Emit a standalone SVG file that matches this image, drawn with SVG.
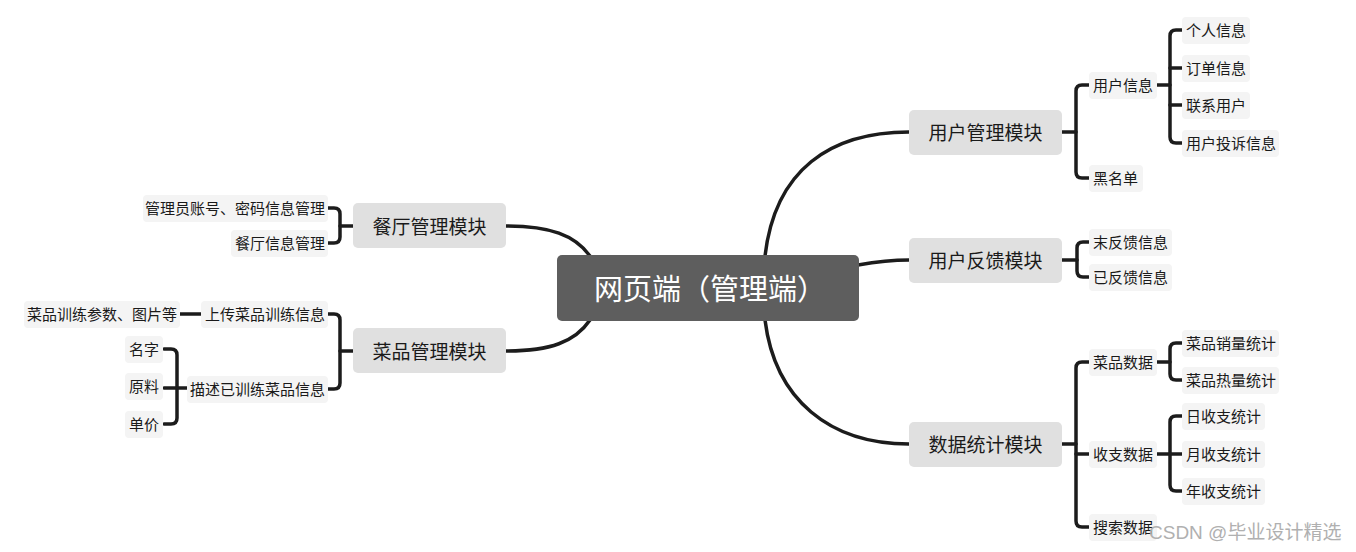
<svg xmlns="http://www.w3.org/2000/svg" width="1356" height="552" viewBox="0 0 1356 552">
<style>
.bg{fill:#ffffff}
.root{fill:#5e5e5e}
.main{fill:#e0e0e0}
.lab{fill:#f4f4f4}
.c{fill:none;stroke:#1c1c1c;stroke-width:3.5;stroke-linecap:round;stroke-linejoin:round}
text{font-family:"Noto Sans CJK SC","Noto Sans",sans-serif;fill:#1a1a1a;dominant-baseline:central}
.t0{font-size:29px;fill:#ffffff;text-anchor:middle}
.t1{font-size:19px;text-anchor:middle}
.t2{font-size:15px}
.r{text-anchor:end}
.wm{font-size:19px;fill:#b0b0b0;font-family:"Liberation Sans","Noto Sans CJK SC",sans-serif}
</style>
<rect class="bg" width="1356" height="552"/>
<g id="connectors">
<path class="c" d="M765,256 C775,170 830,132 909,132"/>
<path class="c" d="M858,265 C875,262 890,260 909,260"/>
<path class="c" d="M765,320 C775,400 830,444 909,444"/>
<path class="c" d="M590,256 C575,235 550,226 506,226"/>
<path class="c" d="M590,320 C575,342 550,351 506,351"/>
<path class="c" d="M1062,132 H1076"/>
<path class="c" d="M1090,85 H1082 Q1076,85 1076,91 V172 Q1076,178 1082,178 H1090"/>
<path class="c" d="M1156,85 H1170"/>
<path class="c" d="M1183,30 H1176 Q1170,30 1170,36 V137 Q1170,143 1176,143 H1183"/>
<path class="c" d="M1170,68 H1183"/>
<path class="c" d="M1170,105 H1183"/>
<path class="c" d="M1062,260 H1077"/>
<path class="c" d="M1090,242 H1083 Q1077,242 1077,248 V271 Q1077,277 1083,277 H1090"/>
<path class="c" d="M1062,444 H1076"/>
<path class="c" d="M1090,362 H1082 Q1076,362 1076,368 V521 Q1076,527 1082,527 H1090"/>
<path class="c" d="M1076,454 H1090"/>
<path class="c" d="M1156,362 H1170"/>
<path class="c" d="M1183,343 H1176 Q1170,343 1170,349 V374 Q1170,380 1176,380 H1183"/>
<path class="c" d="M1156,454 H1183"/>
<path class="c" d="M1183,416 H1176 Q1170,416 1170,422 V485 Q1170,491 1176,491 H1183"/>
<path class="c" d="M353,226 H340"/>
<path class="c" d="M327,208 H334 Q340,208 340,214 V237 Q340,243 334,243 H327"/>
<path class="c" d="M353,351 H340"/>
<path class="c" d="M327,314 H334 Q340,314 340,320 V383 Q340,389 334,389 H327"/>
<path class="c" d="M203,314 H180"/>
<path class="c" d="M191,388 H164"/>
<path class="c" d="M164,349 H171 Q177,349 177,355 V418 Q177,424 171,424 H164"/>
</g>
<g id="root">
<rect class="root" x="557" y="255" width="302" height="66" rx="5"/>
<text class="t0" x="710" y="287">网页端（管理端）</text>
</g>
<g id="n-yhgl">
<rect class="main" x="909" y="110" width="153" height="45" rx="5"/>
<text class="t1" x="985.5" y="131">用户管理模块</text>
</g>
<g id="n-yhfk">
<rect class="main" x="909" y="238" width="153" height="45" rx="5"/>
<text class="t1" x="985.5" y="259">用户反馈模块</text>
</g>
<g id="n-sjtj">
<rect class="main" x="909" y="422" width="153" height="45" rx="5"/>
<text class="t1" x="985.5" y="443">数据统计模块</text>
</g>
<g id="n-ctgl">
<rect class="main" x="353" y="203" width="153" height="45" rx="5"/>
<text class="t1" x="429.5" y="225">餐厅管理模块</text>
</g>
<g id="n-cpgl">
<rect class="main" x="353" y="328" width="153" height="45" rx="5"/>
<text class="t1" x="429.5" y="350">菜品管理模块</text>
</g>
<g id="n-yhxx"><rect class="lab" x="1089" y="72" width="68" height="27" rx="4"/><text class="t2" x="1093" y="84">用户信息</text></g>
<g id="n-hmd"><rect class="lab" x="1089" y="165" width="54" height="27" rx="4"/><text class="t2" x="1093" y="177">黑名单</text></g>
<g id="n-grxx"><rect class="lab" x="1182" y="17" width="68" height="27" rx="4"/><text class="t2" x="1186" y="29">个人信息</text></g>
<g id="n-ddxx"><rect class="lab" x="1182" y="55" width="68" height="27" rx="4"/><text class="t2" x="1186" y="67">订单信息</text></g>
<g id="n-lxyh"><rect class="lab" x="1182" y="92" width="68" height="27" rx="4"/><text class="t2" x="1186" y="104">联系用户</text></g>
<g id="n-yhts"><rect class="lab" x="1182" y="130" width="97" height="27" rx="4"/><text class="t2" x="1186" y="142">用户投诉信息</text></g>
<g id="n-wfk"><rect class="lab" x="1089" y="229" width="83" height="27" rx="4"/><text class="t2" x="1093" y="241">末反馈信息</text></g>
<g id="n-yfk"><rect class="lab" x="1089" y="264" width="83" height="27" rx="4"/><text class="t2" x="1093" y="276">已反馈信息</text></g>
<g id="n-cpsj"><rect class="lab" x="1089" y="349" width="68" height="27" rx="4"/><text class="t2" x="1093" y="361">菜品数据</text></g>
<g id="n-szsj"><rect class="lab" x="1089" y="441" width="68" height="27" rx="4"/><text class="t2" x="1093" y="453">收支数据</text></g>
<g id="n-sssj"><rect class="lab" x="1089" y="514" width="68" height="27" rx="4"/><text class="t2" x="1093" y="526">搜索数据</text></g>
<g id="n-cpxl"><rect class="lab" x="1182" y="330" width="97" height="27" rx="4"/><text class="t2" x="1186" y="342">菜品销量统计</text></g>
<g id="n-cprl"><rect class="lab" x="1182" y="367" width="97" height="27" rx="4"/><text class="t2" x="1186" y="379">菜品热量统计</text></g>
<g id="n-rsz"><rect class="lab" x="1182" y="403" width="83" height="27" rx="4"/><text class="t2" x="1186" y="415">日收支统计</text></g>
<g id="n-ysz"><rect class="lab" x="1182" y="441" width="83" height="27" rx="4"/><text class="t2" x="1186" y="453">月收支统计</text></g>
<g id="n-nsz"><rect class="lab" x="1182" y="478" width="83" height="27" rx="4"/><text class="t2" x="1186" y="490">年收支统计</text></g>
<g id="n-glyzh"><rect class="lab" x="143" y="195" width="185" height="27" rx="4"/><text class="t2 r" x="325" y="207">管理员账号、密码信息管理</text></g>
<g id="n-ctxx"><rect class="lab" x="231" y="230" width="97" height="27" rx="4"/><text class="t2 r" x="325" y="242">餐厅信息管理</text></g>
<g id="n-scxx"><rect class="lab" x="201" y="301" width="127" height="27" rx="4"/><text class="t2 r" x="325" y="313">上传菜品训练信息</text></g>
<g id="n-msxx"><rect class="lab" x="187" y="376" width="141" height="27" rx="4"/><text class="t2 r" x="325" y="388">描述已训练菜品信息</text></g>
<g id="n-cs"><rect class="lab" x="24" y="301" width="156" height="27" rx="4"/><text class="t2 r" x="177" y="313">菜品训练参数、图片等</text></g>
<g id="n-mz"><rect class="lab" x="125" y="336" width="38" height="27" rx="4"/><text class="t2 r" x="159" y="348">名字</text></g>
<g id="n-yl"><rect class="lab" x="125" y="373" width="38" height="27" rx="4"/><text class="t2 r" x="159" y="385">原料</text></g>
<g id="n-dj"><rect class="lab" x="125" y="411" width="38" height="27" rx="4"/><text class="t2 r" x="159" y="423">单价</text></g>
<text class="wm" x="1149" y="532">CSDN @毕业设计精选</text>
</svg>
